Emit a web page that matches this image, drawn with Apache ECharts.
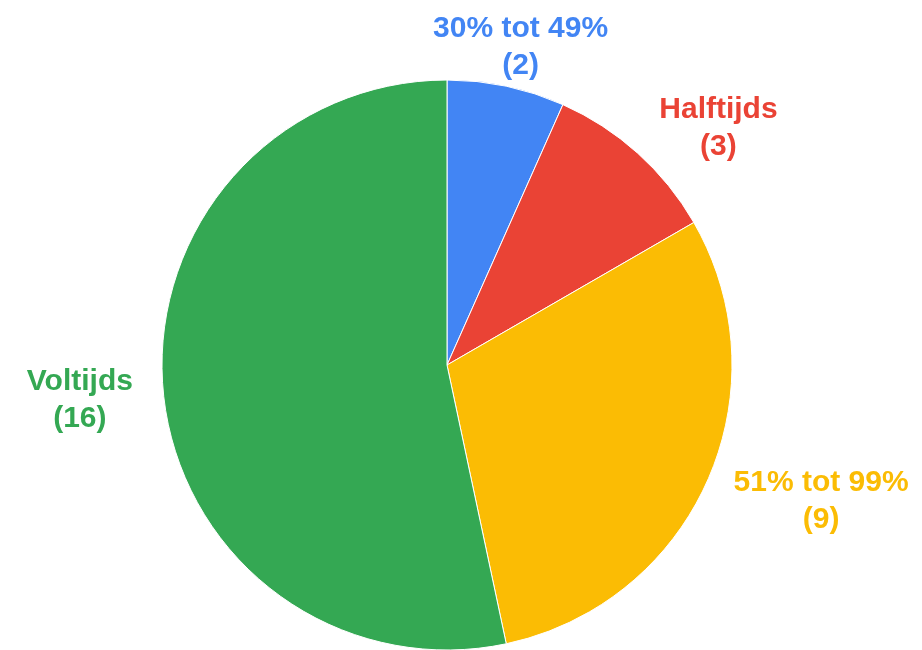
<!DOCTYPE html>
<html>
<head>
<meta charset="utf-8">
<script src="https://cdn.jsdelivr.net/npm/echarts@6/dist/echarts.min.js"></script>
<style>
html,body{margin:0;padding:0;background:#fff;}
#main{width:922px;height:650px;}
</style>
</head>
<body>
<div id="main"></div>
<script>
const categories = ['30% tot 49%', 'Halftijds', '51% tot 99%', 'Voltijds'];
const values = [2, 3, 9, 16];
const colors = ['#4285F4', '#EA4335', '#FBBC04', '#34A853'];
const lineLen = [40, 34, 49, 50];
const lineLen2 = [1, 53, 64, 29];

const chart = echarts.init(document.getElementById('main'));
chart.setOption({
  animation: false,
  series: [{
    type: 'pie',
    center: [447, 365],
    radius: 285,
    startAngle: 90,
    clockwise: true,
    avoidLabelOverlap: false,
    itemStyle: { borderColor: '#fff', borderWidth: 1 },
    label: {
      show: true,
      position: 'outside',
      fontFamily: 'Liberation Sans, Arial, sans-serif',
      fontWeight: 'bold',
      fontSize: 30,
      lineHeight: 37,
      formatter: p => p.name + '\n(' + p.value + ')'
    },
    labelLine: { show: false },
    labelLayout: { align: 'center', verticalAlign: 'middle' },
    data: categories.map((c, i) => ({
      name: c,
      value: values[i],
      itemStyle: { color: colors[i] },
      label: { color: colors[i] },
      labelLine: { show: false, length: lineLen[i], length2: lineLen2[i] }
    }))
  }]
});
</script>
</body>
</html>
